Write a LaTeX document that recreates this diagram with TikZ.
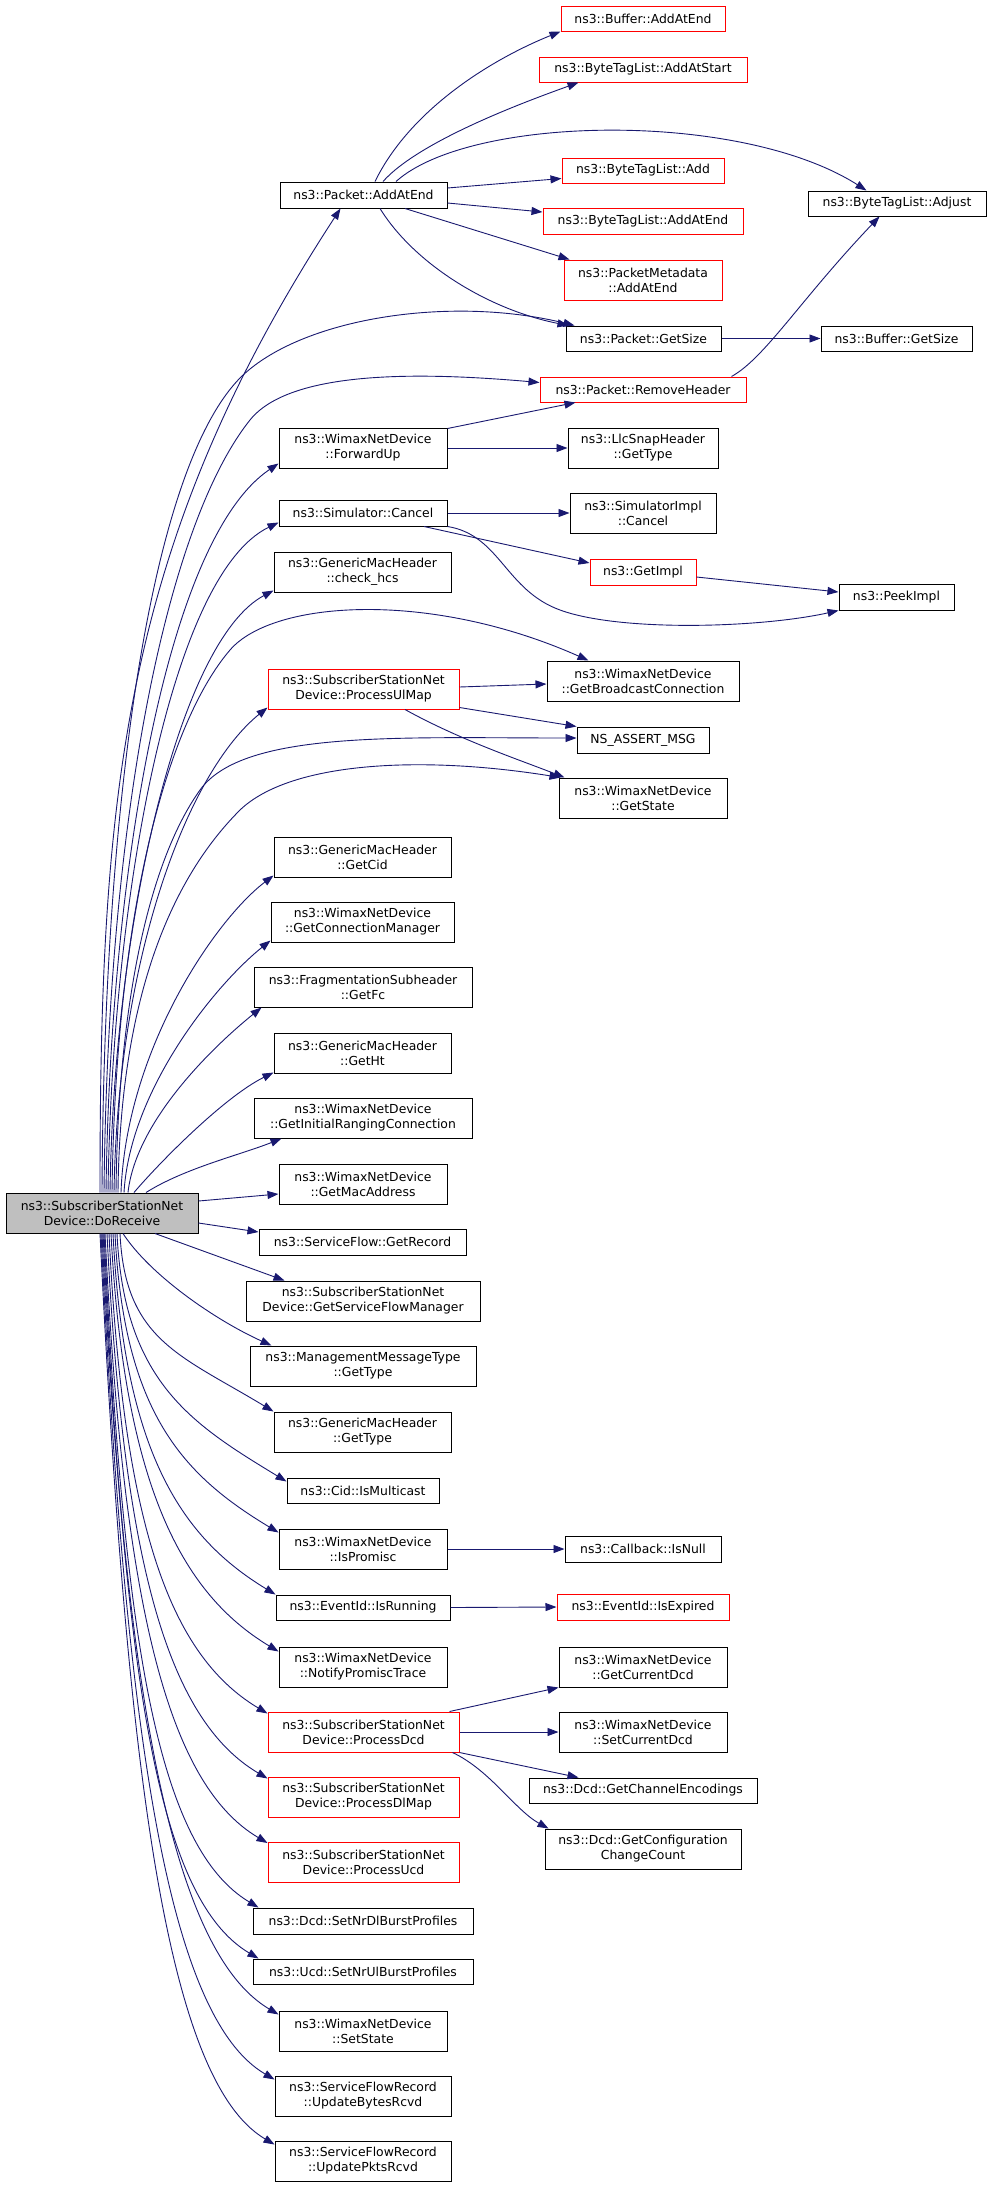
\documentclass[tikz,border=0pt]{standalone}
\usepackage{fontspec}
\setmainfont{DejaVu Sans}
\usetikzlibrary{arrows.meta,calc}
\definecolor{edgec}{HTML}{191970}
\definecolor{redc}{HTML}{FF0000}
\definecolor{grayfill}{HTML}{BFBFBF}
\newcommand\dxfont{\fontsize{12.4}{15}\selectfont}
\begin{document}
\begin{tikzpicture}[x=1pt,y=-1pt,
  box/.style={draw=black, line width=1pt, fill=white, inner sep=0pt, align=center, font=\dxfont},
  rbox/.style={box, draw=redc},
  lnk/.style={draw=edgec, line width=0.9pt, -{Triangle[length=11pt,width=8pt]}}]
\useasboundingbox[fill=white] (0,0) rectangle (987,2187);
% column 1
\node[box, fill=grayfill, minimum width=192pt, minimum height=40pt] (main) at (102,1213) {ns3::SubscriberStationNet\\Device::DoReceive};
% column 2
\node[box, minimum width=167pt, minimum height=26pt] (pAddAtEnd) at (363.5,195) {ns3::Packet::AddAtEnd};
\node[box, minimum width=168pt, minimum height=40pt] (forwardUp) at (363,448) {ns3::WimaxNetDevice\\::ForwardUp};
\node[box, minimum width=168pt, minimum height=26pt] (simCancel) at (363,513) {ns3::Simulator::Cancel};
\node[box, minimum width=177pt, minimum height=40pt] (checkHcs) at (362.5,572) {ns3::GenericMacHeader\\::check\_hcs};
\node[rbox, minimum width=191pt, minimum height=40pt] (processUlMap) at (363.5,689) {ns3::SubscriberStationNet\\Device::ProcessUlMap};
\node[box, minimum width=177pt, minimum height=40pt] (getCid) at (362.5,857) {ns3::GenericMacHeader\\::GetCid};
\node[box, minimum width=183pt, minimum height=40pt] (getConnMgr) at (362.5,922) {ns3::WimaxNetDevice\\::GetConnectionManager};
\node[box, minimum width=218pt, minimum height=40pt] (getFc) at (363,987) {ns3::FragmentationSubheader\\::GetFc};
\node[box, minimum width=177pt, minimum height=40pt] (getHt) at (362.5,1053) {ns3::GenericMacHeader\\::GetHt};
\node[box, minimum width=218pt, minimum height=40pt] (getInitRanging) at (363,1118) {ns3::WimaxNetDevice\\::GetInitialRangingConnection};
\node[box, minimum width=168pt, minimum height=40pt] (getMacAddr) at (363,1184) {ns3::WimaxNetDevice\\::GetMacAddress};
\node[box, minimum width=207pt, minimum height=26pt] (getRecord) at (362.5,1242) {ns3::ServiceFlow::GetRecord};
\node[box, minimum width=234pt, minimum height=40pt] (getSFM) at (363,1301) {ns3::SubscriberStationNet\\Device::GetServiceFlowManager};
\node[box, minimum width=226pt, minimum height=40pt] (mmtGetType) at (363,1366) {ns3::ManagementMessageType\\::GetType};
\node[box, minimum width=177pt, minimum height=40pt] (gmhGetType) at (362.5,1432) {ns3::GenericMacHeader\\::GetType};
\node[box, minimum width=152pt, minimum height=25pt] (isMulticast) at (363,1490.5) {ns3::Cid::IsMulticast};
\node[box, minimum width=168pt, minimum height=40pt] (isPromisc) at (363,1549) {ns3::WimaxNetDevice\\::IsPromisc};
\node[box, minimum width=174pt, minimum height=25pt] (isRunning) at (363,1607.5) {ns3::EventId::IsRunning};
\node[box, minimum width=168pt, minimum height=40pt] (notifyPromisc) at (363,1667) {ns3::WimaxNetDevice\\::NotifyPromiscTrace};
\node[rbox, minimum width=191pt, minimum height=40pt] (processDcd) at (363.5,1732) {ns3::SubscriberStationNet\\Device::ProcessDcd};
\node[rbox, minimum width=191pt, minimum height=40pt] (processDlMap) at (363.5,1797) {ns3::SubscriberStationNet\\Device::ProcessDlMap};
\node[rbox, minimum width=191pt, minimum height=40pt] (processUcd) at (363.5,1862.5) {ns3::SubscriberStationNet\\Device::ProcessUcd};
\node[box, minimum width=220pt, minimum height=26pt] (setNrDl) at (363,1921) {ns3::Dcd::SetNrDlBurstProfiles};
\node[box, minimum width=220pt, minimum height=25pt] (setNrUl) at (363,1971.5) {ns3::Ucd::SetNrUlBurstProfiles};
\node[box, minimum width=168pt, minimum height=40pt] (setState) at (363,2031) {ns3::WimaxNetDevice\\::SetState};
\node[box, minimum width=176pt, minimum height=40pt] (updBytes) at (363,2096) {ns3::ServiceFlowRecord\\::UpdateBytesRcvd};
\node[box, minimum width=176pt, minimum height=40pt] (updPkts) at (363,2161) {ns3::ServiceFlowRecord\\::UpdatePktsRcvd};
% column 3
\node[rbox, minimum width=164pt, minimum height=25pt] (bufAddAtEnd) at (643,18.5) {ns3::Buffer::AddAtEnd};
\node[rbox, minimum width=208pt, minimum height=25pt] (btlAddAtStart) at (643,69.5) {ns3::ByteTagList::AddAtStart};
\node[rbox, minimum width=162pt, minimum height=25pt] (btlAdd) at (643,170.5) {ns3::ByteTagList::Add};
\node[rbox, minimum width=200pt, minimum height=26pt] (btlAddAtEnd) at (643,221) {ns3::ByteTagList::AddAtEnd};
\node[rbox, minimum width=158pt, minimum height=40pt] (pmAddAtEnd) at (643,280) {ns3::PacketMetadata\\::AddAtEnd};
\node[box, minimum width=155pt, minimum height=25pt] (pGetSize) at (643.5,338.5) {ns3::Packet::GetSize};
\node[rbox, minimum width=206pt, minimum height=25pt] (pRemoveHeader) at (643,389.5) {ns3::Packet::RemoveHeader};
\node[box, minimum width=150pt, minimum height=40pt] (llcGetType) at (643,448) {ns3::LlcSnapHeader\\::GetType};
\node[box, minimum width=146pt, minimum height=40pt] (simImplCancel) at (643,513) {ns3::SimulatorImpl\\::Cancel};
\node[rbox, minimum width=106pt, minimum height=26pt] (getImpl) at (643,572) {ns3::GetImpl};
\node[box, minimum width=192pt, minimum height=40pt] (getBcast) at (643,681) {ns3::WimaxNetDevice\\::GetBroadcastConnection};
\node[box, minimum width=132pt, minimum height=26pt] (nsAssert) at (643,740) {NS\_ASSERT\_MSG};
\node[box, minimum width=168pt, minimum height=40pt] (getState) at (643,798) {ns3::WimaxNetDevice\\::GetState};
\node[box, minimum width=156pt, minimum height=26pt] (isNull) at (643,1549) {ns3::Callback::IsNull};
\node[rbox, minimum width=172pt, minimum height=26pt] (isExpired) at (643,1607) {ns3::EventId::IsExpired};
\node[box, minimum width=168pt, minimum height=40pt] (getCurrentDcd) at (643,1667) {ns3::WimaxNetDevice\\::GetCurrentDcd};
\node[box, minimum width=168pt, minimum height=40pt] (setCurrentDcd) at (643,1732) {ns3::WimaxNetDevice\\::SetCurrentDcd};
\node[box, minimum width=228pt, minimum height=25pt] (getChanEnc) at (643,1790.5) {ns3::Dcd::GetChannelEncodings};
\node[box, minimum width=196pt, minimum height=40pt] (getConfChange) at (643,1849) {ns3::Dcd::GetConfiguration\\ChangeCount};
% column 4
\node[box, minimum width=178pt, minimum height=25pt] (btlAdjust) at (897,203.5) {ns3::ByteTagList::Adjust};
\node[box, minimum width=151pt, minimum height=25pt] (bufGetSize) at (896.5,338.5) {ns3::Buffer::GetSize};
\node[box, minimum width=115pt, minimum height=26pt] (peekImpl) at (896.5,597) {ns3::PeekImpl};

% ---- edges from DoReceive (upwards)
\draw[lnk] ($(main.north)+(-2,0)$) .. controls (100,793) and (122,544) .. ($(pAddAtEnd.south)+(-23,0)$);
\draw[lnk] ($(main.north)+(0,0)$) .. controls (104,800) and (150,470) .. (240,378) .. controls (300,318) and (450,295) .. ($(pGetSize.north west)+(9,0)$);
\draw[lnk] ($(main.north)+(2,0)$) .. controls (108,800) and (170,520) .. (250,420) .. controls (290,370) and (420,372) .. ($(pRemoveHeader.west)+(0,-7)$);
\draw[lnk] ($(main.north)+(4,0)$) .. controls (110,880) and (165,540) .. ($(forwardUp.south west)+(0,-5)$);
\draw[lnk] ($(main.north)+(6,0)$) .. controls (112,900) and (170,575) .. ($(simCancel.south west)+(0,-4)$);
\draw[lnk] ($(main.north)+(8,0)$) .. controls (114,920) and (180,640) .. ($(checkHcs.south west)+(0,-2)$);
\draw[lnk] ($(main.north)+(10,0)$) .. controls (116,900) and (170,720) .. (230,650) .. controls (273,600) and (430,590) .. ($(getBcast.north west)+(42,0)$);
\draw[lnk] ($(main.north)+(12,0)$) .. controls (118,950) and (190,770) .. ($(processUlMap.south west)+(0,-2)$);
\draw[lnk] ($(main.north)+(14,0)$) .. controls (118,1000) and (150,860) .. (200,790) .. controls (243,730) and (400,738) .. ($(nsAssert.west)+(0,-2)$);
\draw[lnk] ($(main.north)+(16,0)$) .. controls (120,1000) and (170,880) .. (240,810) .. controls (290,762) and (420,755) .. ($(getState.north west)+(2,0)$);
\draw[lnk] ($(main.north)+(19,0)$) .. controls (126,1050) and (215,920) .. ($(getCid.south west)+(0,-2)$);
\draw[lnk] ($(main.north)+(22,0)$) .. controls (130,1090) and (215,985) .. ($(getConnMgr.south west)+(0,-2)$);
\draw[lnk] ($(main.north)+(26,0)$) .. controls (136,1120) and (215,1045) .. ($(getFc.south west)+(8,0)$);
\draw[lnk] ($(main.north)+(32,0)$) .. controls (159,1163) and (224,1097) .. ($(getHt.south west)+(0,-1)$);
\draw[lnk] ($(main.north)+(44,0)$) .. controls (185,1168) and (240,1155) .. ($(getInitRanging.south west)+(28,0)$);
\draw[lnk] ($(main.east)+(0,-12)$) -- ($(getMacAddr.west)+(0,10)$);
\draw[lnk] ($(main.east)+(0,10)$) -- ($(getRecord.west)+(0,-10)$);
% ---- edges from DoReceive (downwards)
\draw[lnk] ($(main.south)+(53,0)$) -- ($(getSFM.north west)+(39,0)$);
\draw[lnk] ($(main.south)+(21,0)$) .. controls (150,1275) and (215,1320) .. ($(mmtGetType.north west)+(22,0)$);
\draw[lnk] ($(main.south)+(18,0)$) .. controls (125,1340) and (180,1355) .. (gmhGetType.north west);
\draw[lnk] ($(main.south)+(15,0)$) .. controls (124,1382) and (192,1424) .. ($(isMulticast.north west)+(0,4)$);
\draw[lnk] ($(main.south)+(13,0)$) .. controls (124,1413) and (183,1475) .. ($(isPromisc.north west)+(0,4)$);
\draw[lnk] ($(main.south)+(11,0)$) .. controls (124,1450) and (179,1536) .. (isRunning.north west);
\draw[lnk] ($(main.south)+(9,0)$) .. controls (124,1484) and (181,1593) .. ($(notifyPromisc.north west)+(0,5)$);
\draw[lnk] ($(main.south)+(7,0)$) .. controls (123,1522) and (168,1654) .. ($(processDcd.north west)+(0,2)$);
\draw[lnk] ($(main.south)+(5,0)$) .. controls (123,1561) and (167,1719) .. ($(processDlMap.north west)+(0,2)$);
\draw[lnk] ($(main.south)+(3,0)$) .. controls (123,1600) and (166,1783) .. ($(processUcd.north west)+(0,1)$);
\draw[lnk] ($(main.south)+(2,0)$) .. controls (124,1638) and (156,1846) .. ($(setNrDl.north west)+(6,0)$);
\draw[lnk] ($(main.south)+(1,0)$) .. controls (125,1669) and (155,1897) .. ($(setNrUl.north west)+(6,0)$);
\draw[lnk] ($(main.south)+(0,0)$) .. controls (125,1702) and (173,1952) .. ($(setState.north west)+(0,4)$);
\draw[lnk] ($(main.south)+(-1,0)$) .. controls (126,1741) and (168,2017) .. ($(updBytes.north west)+(0,4)$);
\draw[lnk] ($(main.south)+(-2,0)$) .. controls (127,1780) and (167,2081) .. ($(updPkts.north west)+(0,4)$);

% ---- Packet::AddAtEnd
\draw[lnk] ($(pAddAtEnd.north)+(11.5,0)$) .. controls (410,110) and (490,60) .. (bufAddAtEnd.south west);
\draw[lnk] ($(pAddAtEnd.north)+(19.5,0)$) .. controls (420,140) and (530,100) .. ($(btlAddAtStart.south west)+(40,0)$);
\draw[lnk] ($(pAddAtEnd.north)+(32.5,0)$) .. controls (470,115) and (740,110) .. ($(btlAdjust.north west)+(59,0)$);
\draw[lnk] ($(pAddAtEnd.east)+(0,-7)$) -- ($(btlAdd.west)+(0,8)$);
\draw[lnk] ($(pAddAtEnd.east)+(0,8)$) -- ($(btlAddAtEnd.west)+(0,-9)$);
\draw[lnk] ($(pAddAtEnd.south)+(41.5,0)$) -- ($(pmAddAtEnd.north west)+(6,0)$);
\draw[lnk] ($(pAddAtEnd.south)+(16.5,0)$) .. controls (415,265) and (490,310) .. ($(pGetSize.north west)+(3,0)$);
\draw[lnk] (pGetSize.east) -- (bufGetSize.west);
\draw[lnk] ($(pRemoveHeader.north east)+(-15,0)$) .. controls (765,358) and (800,300) .. ($(btlAdjust.south west)+(72,0)$);
% ---- ForwardUp, Cancel
\draw[lnk] ($(forwardUp.north east)+(0,1)$) -- ($(pRemoveHeader.south west)+(36,0)$);
\draw[lnk] (forwardUp.east) -- (llcGetType.west);
\draw[lnk] (simCancel.east) -- (simImplCancel.west);
\draw[lnk] ($(simCancel.south)+(61,0)$) -- ($(getImpl.west)+(0,-9)$);
\draw[lnk] (simCancel.south east) .. controls (500,535) and (505,590) .. (560,610) .. controls (620,632) and (760,628) .. (peekImpl.south west);
\draw[lnk] ($(getImpl.east)+(0,5)$) -- ($(peekImpl.west)+(0,-5)$);
% ---- ProcessUlMap
\draw[lnk] ($(processUlMap.east)+(0,-2)$) -- ($(getBcast.west)+(0,3)$);
\draw[lnk] ($(processUlMap.south east)+(0,-2)$) -- (nsAssert.north west);
\draw[lnk] ($(processUlMap.south)+(41.5,0)$) .. controls (460,740) and (520,760) .. ($(getState.north west)+(6,0)$);
% ---- lower right
\draw[lnk] (isPromisc.east) -- (isNull.west);
\draw[lnk] (isRunning.east) -- (isExpired.west);
\draw[lnk] ($(processDcd.north east)+(-10,0)$) -- (getCurrentDcd.south west);
\draw[lnk] (processDcd.east) -- (setCurrentDcd.west);
\draw[lnk] (processDcd.south east) -- ($(getChanEnc.north west)+(50,0)$);
\draw[lnk] ($(processDcd.south east)+(-7,0)$) .. controls (490,1770) and (515,1810) .. ($(getConfChange.north west)+(4,0)$);
\end{tikzpicture}
\end{document}
